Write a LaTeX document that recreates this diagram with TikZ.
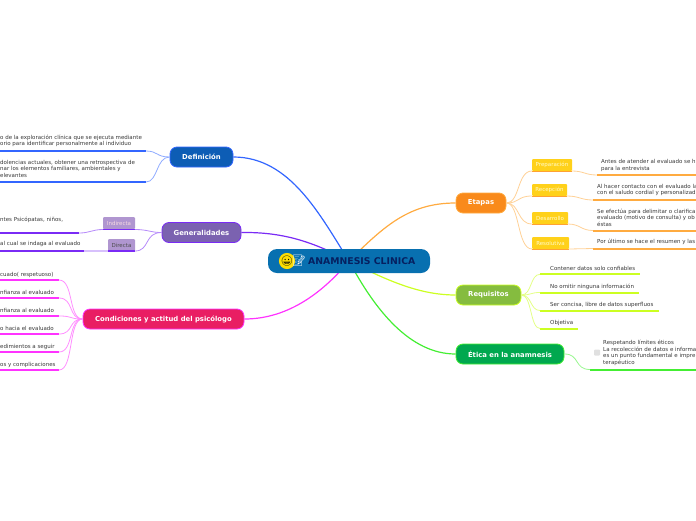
\documentclass[tikz,border=0pt]{standalone}
\usepackage{fontspec}
\setmainfont{DejaVu Sans}
\newfontfamily\emojifont{Noto Emoji}
\usetikzlibrary{backgrounds}
\definecolor{defblue}{HTML}{3366FF}
\definecolor{genpurple}{HTML}{7A2BF5}
\definecolor{condpink}{HTML}{FF33FF}
\definecolor{etaorange}{HTML}{FFAB40}
\definecolor{reqlime}{HTML}{CCFF22}
\definecolor{etigreen}{HTML}{44EE33}
\definecolor{rootfill}{HTML}{0870B0}
\definecolor{roottext}{HTML}{062060}
\definecolor{deffill}{HTML}{0D5DB5}
\definecolor{genfill}{HTML}{7B62B0}
\definecolor{condfill}{HTML}{E91E63}
\definecolor{etafill}{HTML}{F98A1B}
\definecolor{reqfill}{HTML}{85BC3F}
\definecolor{etifill}{HTML}{00A84F}
\definecolor{gentag}{HTML}{B096D0}
\definecolor{etatag}{HTML}{FFD11A}
\tikzset{
	topic/.style={draw,line width=0.8pt,rounded corners=7pt,text=white,font=\fontsize{6.85}{8}\selectfont\bfseries,inner sep=0pt,minimum height=20pt},
	tag/.style={fill=#1,rounded corners=1pt,inner sep=0pt,minimum height=12pt,font=\fontsize{5.5}{6}\selectfont},
	leaftext/.style={anchor=west,inner sep=0pt,align=left,text=black!78,font=\fontsize{5.5}{6.5}\selectfont},
	twig/.style={line width=0.8pt,draw=#1!55},
	rule/.style={line width=2pt,draw=#1},
}
\begin{document}
\begin{tikzpicture}[x=1pt,y=-1pt]
	\clip (0,0) rectangle (696,520);

	\node[fill=rootfill,rounded corners=9pt,minimum width=162pt,minimum height=24pt,inner sep=0pt] (root) at (349,261) {};
	\node[anchor=west,inner sep=0pt,text=roottext,font=\fontsize{9.3}{10}\selectfont\bfseries] (rootlabel) at (308,261.5) {ANAMNESIS CLINICA};
	\node[circle,fill=yellow!80!orange,minimum size=10pt,inner sep=0pt,font=\emojifont\fontsize{10}{10}\selectfont] (face) at (287,261) {😀};
	\node[inner sep=0pt,text=white,font=\emojifont\fontsize{11}{11}\selectfont] (memo) at (299,261) {📝};

	\node[topic,draw=defblue,fill=deffill,minimum width=63pt] (def) at (201.5,157) {Definición};
	\node[topic,draw=genpurple,fill=genfill,minimum width=79pt] (gen) at (201.5,232.5) {Generalidades};
	\node[topic,draw=condpink,fill=condfill,minimum width=161pt] (cond) at (163.5,319) {Condiciones y actitud del psicólogo};
	\node[topic,draw=etaorange,fill=etafill,minimum width=50pt] (eta) at (481,203) {Etapas};
	\node[topic,draw=reqlime,fill=reqfill,minimum width=65pt] (req) at (488.5,295) {Requisitos};
	\node[topic,draw=etigreen,fill=etifill,minimum width=108pt] (eti) at (510,354) {Ética en la anamnesis};

	\begin{pgfonlayer}{background}
		\draw[line width=1.2pt,defblue] (def.east) .. controls (290,157) and (320,215) .. (root.center);
		\draw[line width=1.2pt,genpurple] (gen.east) .. controls (280,232) and (310,240) .. (root.center);
		\draw[line width=1.2pt,condpink] (cond.east) .. controls (290,319) and (325,290) .. (root.center);
		\draw[line width=1.2pt,etaorange] (eta.west) .. controls (410,203) and (385,225) .. (root.center);
		\draw[line width=1.2pt,reqlime] (req.west) .. controls (425,295) and (395,285) .. (root.center);
		\draw[line width=1.2pt,etigreen] (eti.west) .. controls (410,354) and (375,310) .. (root.center);
	\end{pgfonlayer}

	% Definicion
	\foreach \i/\ty/\ly/\txt in {1/141/151/{o de la exploración clínica que se ejecuta mediante\\orio para identificar personalmente al individuo},
		2/168.5/182/{ dolencias actuales, obtener una retrospectiva de\\nar los elementos familiares, ambientales y\\elevantes}}{
		\node[leaftext] (deftext\i) at (0,\ty) {\txt};
		\coordinate (defa\i) at (0,\ly);
		\coordinate (defb\i) at (146,\ly);
		\draw[rule=defblue] (defa\i) -- (defb\i);
		\draw[twig=defblue] (defb\i) .. controls (158,\ly) and (156,157) .. (def.west);
	}

	% Generalidades
	\node[tag=gentag,text=white!85!purple,minimum width=32pt] (indirecta) at (119,223) {Indirecta};
	\node[tag=gentag,text=black!70,minimum width=27pt] (directa) at (121.5,245) {Directa};
	\coordinate (inda) at (103,229.5);
	\coordinate (indb) at (135,229.5);
	\coordinate (dira) at (108,251);
	\coordinate (dirb) at (135,251);
	\draw[rule=genpurple,line width=1pt] (inda) -- (indb);
	\draw[rule=genpurple] (dira) -- (dirb);
	\draw[twig=genpurple] (indb) .. controls (148,229.5) and (150,232.5) .. (gen.west);
	\draw[twig=genpurple] (dirb) .. controls (150,251) and (144,232.5) .. (gen.west);
	\node[leaftext] (indtext) at (0,220) {ntes Psicópatas, niños,};
	\node[leaftext] (dirtext) at (0,244) {al cual se indaga al evaluado};
	\coordinate (indc) at (79,233);
	\coordinate (indd) at (0,233);
	\coordinate (dirc) at (84,251);
	\coordinate (dird) at (0,251);
	\draw[rule=genpurple] (indd) -- (indc);
	\draw[rule=genpurple] (dird) -- (dirc);
	\draw[twig=genpurple] (inda) .. controls (92,229.5) and (90,233) .. (indc);
	\draw[line width=1.5pt,genpurple!30] (dirc) -- (dira);

	% Condiciones
	\foreach \i/\ly/\txt in {1/280/cuado( respetuoso),2/298/nfianza al evaluado,3/316/nfianza al evaluado,
		4/334/o hacia el evaluado,5/352/edimientos a seguir,6/370/os y complicaciones}{
		\node[leaftext] (condtext\i) at (0,\ly-5.5) {\txt};
		\coordinate (conda\i) at (0,\ly);
		\coordinate (condb\i) at (59,\ly);
		\draw[rule=condpink] (conda\i) -- (condb\i);
		\draw[twig=condpink] (condb\i) .. controls (74,\ly) and (68,319) .. (cond.west);
	}

	% Etapas
	\foreach \i/\xa/\xb/\ty/\lx/\ly/\tx/\my/\lbl/\txt in {
		1/532/572/165/597/175/601/165.5/Preparación/{Antes de atender al evaluado se h\\para la entrevista},
		2/532/567/190/593/200/597/190/Recepción/{Al hacer contacto con el evaluado la\\con el saludo cordial y personalizad},
		3/532/568/218/593/230.5/597/217.5/Desarrollo/{Se efectúa para delimitar o clarifica\\evaluado (motivo de consulta) y ob\\éstas},
		4/532/569/243/593/248.5/597/242/Resolutiva/{Por último se hace el resumen y las}}{
		\node[tag=etatag,text=white!80!yellow,minimum width=\xb pt-\xa pt] (etatag\i) at ({(\xa+\xb)/2},\ty) {\lbl};
		\coordinate (etaa\i) at (\xa,\ty+6);
		\coordinate (etab\i) at (\xb,\ty+6);
		\coordinate (etac\i) at (\lx,\ly);
		\coordinate (etad\i) at (696,\ly);
		\draw[line width=1pt,etaorange!80!orange] (etaa\i) -- (etab\i);
		\draw[twig=etaorange] (etaa\i) .. controls (517,\ty+6) and (520,203) .. (eta.east);
		\draw[twig=etaorange] (etab\i) .. controls (\xb+12,\ty+6) and (\lx-12,\ly) .. (etac\i);
		\draw[rule=etaorange] (etac\i) -- (etad\i);
		\node[leaftext] (etatext\i) at (\tx,\my) {\txt};
	}

	% Requisitos
	\foreach \i/\ly/\xb/\txt in {1/274.3/640/Contener datos solo confiables,2/292.5/639/No omitir ninguna información,
		3/310.5/659/{Ser concisa, libre de datos superfluos},4/328.5/578/Objetiva}{
		\node[leaftext] (reqtext\i) at (550,\ly-6) {\txt};
		\coordinate (reqa\i) at (540,\ly);
		\coordinate (reqb\i) at (\xb,\ly);
		\draw[rule=reqlime] (reqa\i) -- (reqb\i);
		\draw[twig=reqlime] (reqa\i) .. controls (530,\ly) and (532,295) .. (req.east);
	}

	% Etica
	\node[fill=black!12,rounded corners=1pt,minimum size=6pt,inner sep=0pt] (etibox) at (597,352.5) {};
	\node[leaftext,font=\fontsize{5.5}{6.6}\selectfont] (etitext) at (603,353) {Respetando límites éticos\\La recolección de datos e informa\\es un punto fundamental e impre\\terapéutico};
	\coordinate (etia) at (590,369.5);
	\coordinate (etib) at (696,369.5);
	\draw[rule=etigreen] (etia) -- (etib);
	\draw[twig=etigreen] (eti.east) .. controls (580,354) and (574,369.5) .. (etia);
\end{tikzpicture}
\end{document}
